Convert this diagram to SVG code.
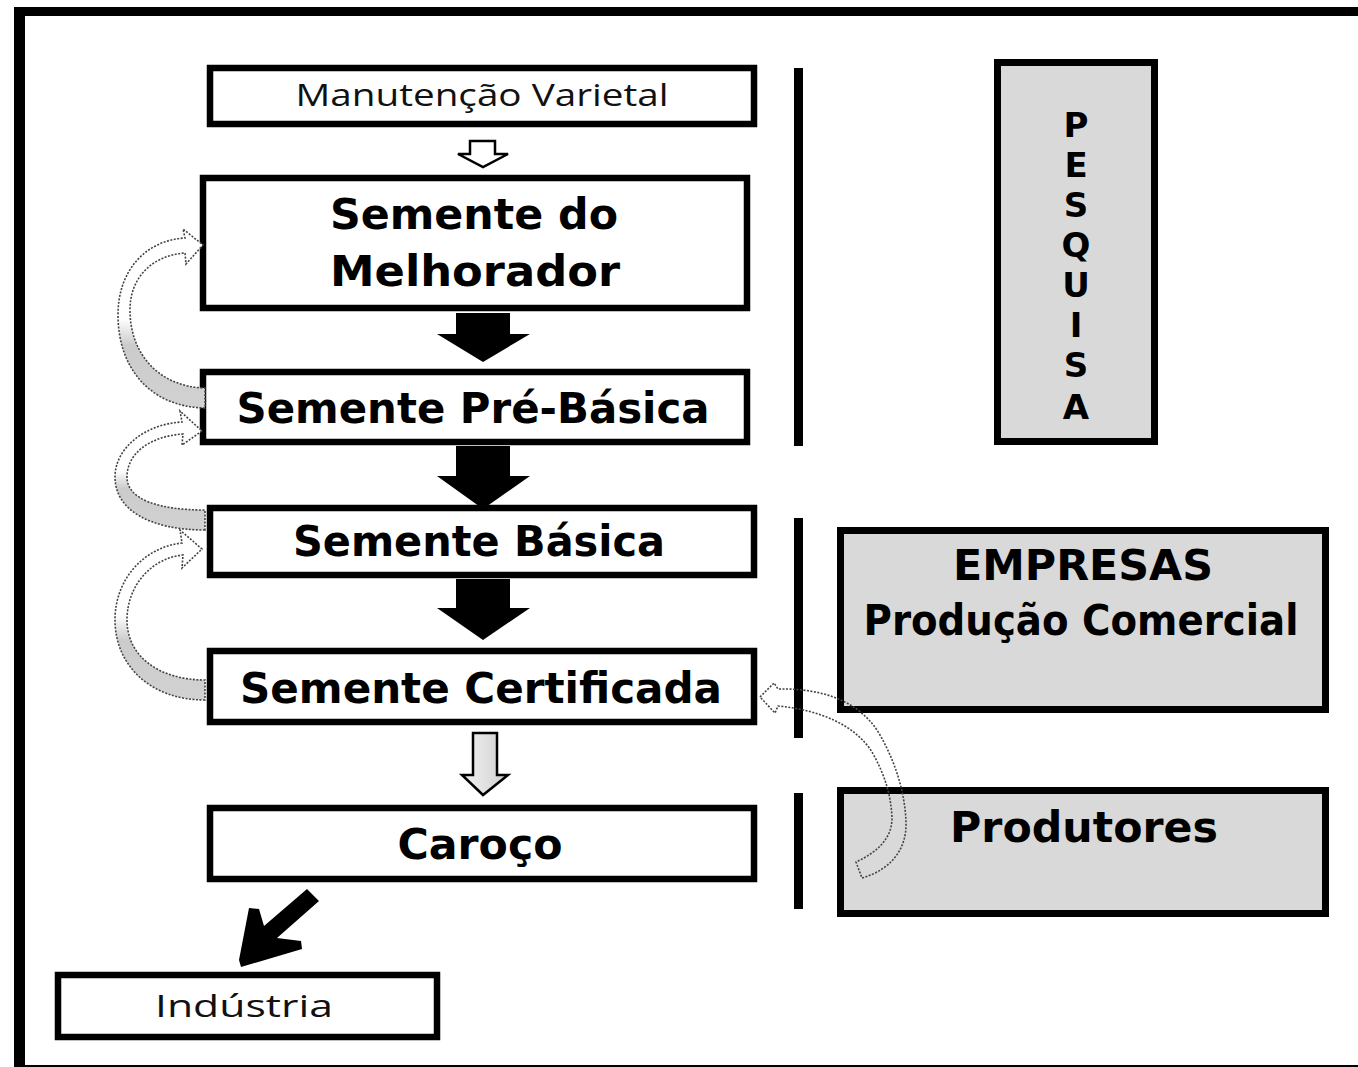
<svg xmlns="http://www.w3.org/2000/svg" width="1358" height="1067" viewBox="0 0 1358 1067">
<style>
.box{fill:#fff;stroke:#000;stroke-width:6.5}
.gbox{fill:#d9d9d9;stroke:#000;stroke-width:7}
.b{font-family:"DejaVu Sans",Verdana,sans-serif;font-weight:bold;font-size:43px;text-anchor:middle;fill:#000}
.p{font-family:"DejaVu Sans",Verdana,sans-serif;font-weight:bold;font-size:34px;text-anchor:middle;fill:#000}
.r{font-family:"Open Sans","Liberation Sans",sans-serif;font-size:31px;text-anchor:middle;fill:#111}
.bar{fill:#000}
.blk{fill:#000}
.curl{fill:url(#curlFill);stroke:#444;stroke-width:1.6;stroke-dasharray:2 1.5}
.curlr{fill:none;stroke:#444;stroke-width:1.6;stroke-dasharray:2 1.5}
</style>
<defs>
<linearGradient id="curlFill" x1="0" y1="0" x2="0" y2="1">
<stop offset="0" stop-color="#fff"/>
<stop offset="0.5" stop-color="#fff"/>
<stop offset="0.65" stop-color="#cbcbcb"/>
<stop offset="1" stop-color="#d2d2d2"/>
</linearGradient>
<linearGradient id="hollowGray" x1="0" y1="0" x2="1" y2="0">
<stop offset="0" stop-color="#f2f2f2"/>
<stop offset="1" stop-color="#d0d0d0"/>
</linearGradient>
</defs>
<rect x="0" y="0" width="1358" height="1067" fill="#fff"/>
<g id="frame">
<rect x="14" y="7" width="11" height="1060" fill="#000"/>
<rect x="14" y="7" width="1344" height="9" fill="#000"/>
<rect x="25" y="1065" width="1333" height="2" fill="#000"/>
</g>
<g id="bars">
<rect class="bar" x="794" y="68" width="9" height="378"/>
<rect class="bar" x="794" y="518" width="9" height="220"/>
<rect class="bar" x="794" y="793" width="9" height="116"/>
</g>
<g id="n-manutencao">
<rect class="box" x="210" y="68" width="544" height="56"/>
<text class="r" x="482" y="106" textLength="373" lengthAdjust="spacingAndGlyphs">Manutenção Varietal</text>
</g>
<g id="n-melhorador">
<rect class="box" x="203" y="178" width="544" height="130"/>
<text class="b" x="474" y="229" textLength="288" lengthAdjust="spacingAndGlyphs">Semente do</text>
<text class="b" x="475" y="286" textLength="290" lengthAdjust="spacingAndGlyphs">Melhorador</text>
</g>
<g id="n-prebasica">
<rect class="box" x="203" y="372" width="544" height="70"/>
<text class="b" x="473" y="423" textLength="473" lengthAdjust="spacingAndGlyphs">Semente Pré-Básica</text>
</g>
<g id="n-basica">
<rect class="box" x="210" y="508" width="544" height="67"/>
<text class="b" x="479" y="556" textLength="372" lengthAdjust="spacingAndGlyphs">Semente Básica</text>
</g>
<g id="n-certificada">
<rect class="box" x="210" y="651" width="544" height="71"/>
<text class="b" x="481" y="703" textLength="482" lengthAdjust="spacingAndGlyphs">Semente Certificada</text>
</g>
<g id="n-caroco">
<rect class="box" x="210" y="808" width="544" height="71"/>
<text class="b" x="480" y="859" textLength="165" lengthAdjust="spacingAndGlyphs">Caroço</text>
</g>
<g id="n-industria">
<rect class="box" x="58" y="975" width="379" height="62" stroke-width="7"/>
<text class="r" x="244" y="1017" textLength="178" lengthAdjust="spacingAndGlyphs">Indústria</text>
</g>
<g id="n-pesquisa">
<rect class="gbox" x="997.5" y="62.5" width="157" height="379"/>
<text class="p" x="1076" y="137">P</text>
<text class="p" x="1076" y="177">E</text>
<text class="p" x="1076" y="217">S</text>
<text class="p" x="1076" y="257">Q</text>
<text class="p" x="1076" y="297">U</text>
<text class="p" x="1076" y="337">I</text>
<text class="p" x="1076" y="377">S</text>
<text class="p" x="1076" y="419">A</text>
</g>
<g id="n-empresas">
<rect class="gbox" x="840.5" y="530.5" width="485" height="179"/>
<text class="b" x="1083" y="580" textLength="260" lengthAdjust="spacingAndGlyphs">EMPRESAS</text>
<text class="b" x="1081" y="635" textLength="435" lengthAdjust="spacingAndGlyphs">Produção Comercial</text>
</g>
<g id="n-produtores">
<rect class="gbox" x="840.5" y="790.5" width="485" height="123"/>
<text class="b" x="1084" y="842" textLength="268" lengthAdjust="spacingAndGlyphs">Produtores</text>
</g>
<g id="connectors">
<path id="a-top" d="M470,141 H495 V154 H508 L483,167 L458,154 H470 Z" fill="#fff" stroke="#000" stroke-width="2.5"/>
<path id="a1" class="blk" d="M456,313 H510 V334 H530 L483,362 L437,334 H456 Z"/>
<path id="a2" class="blk" d="M456,446 H510 V476 H530 L483,509 L437,476 H456 Z"/>
<path id="a3" class="blk" d="M456,579 H510 V608 H530 L483,640 L437,608 H456 Z"/>
<path id="a-gray" d="M473,733 H497 V775 H508 L483,795 L462,775 H473 Z" fill="url(#hollowGray)" stroke="#000" stroke-width="2.5"/>
<polygon id="a-diag" class="blk" points="307,889 319,901 277,938 301,941 302,949 241,967 239,960 249,908 259,909 264,926"/>
<path id="c1" class="curl" d="M205,408 C150,407 118,368 118,315 C118,268 148,240 185,238 L183,229 L203,245 L186,264 L185,253 C155,255 130,275 130,310 C130,355 160,387 205,388 Z"/>
<path id="c2" class="curl" d="M205,530 C150,530 115,510 115,477 C115,448 145,424 182,422 L180,411 L202,431 L182,445 L183,434 C152,436 127,452 127,477 C127,500 160,510 205,510 Z"/>
<path id="c3" class="curl" d="M205,700 C150,700 115,665 115,620 C115,578 145,547 182,543 L180,530 L202,549 L182,568 L183,555 C152,558 127,585 127,620 C127,657 160,680 205,680 Z"/>
<path id="c4" class="curlr" d="M760,697 L774,683 L778,689 C820,688 860,700 880,735 C897,765 905,795 906,822 C907,850 890,870 862,878 L856,862 C878,852 892,838 892,818 C891,795 885,775 872,752 C855,725 820,710 778,706 L775,713 Z"/>
</g>
</svg>
